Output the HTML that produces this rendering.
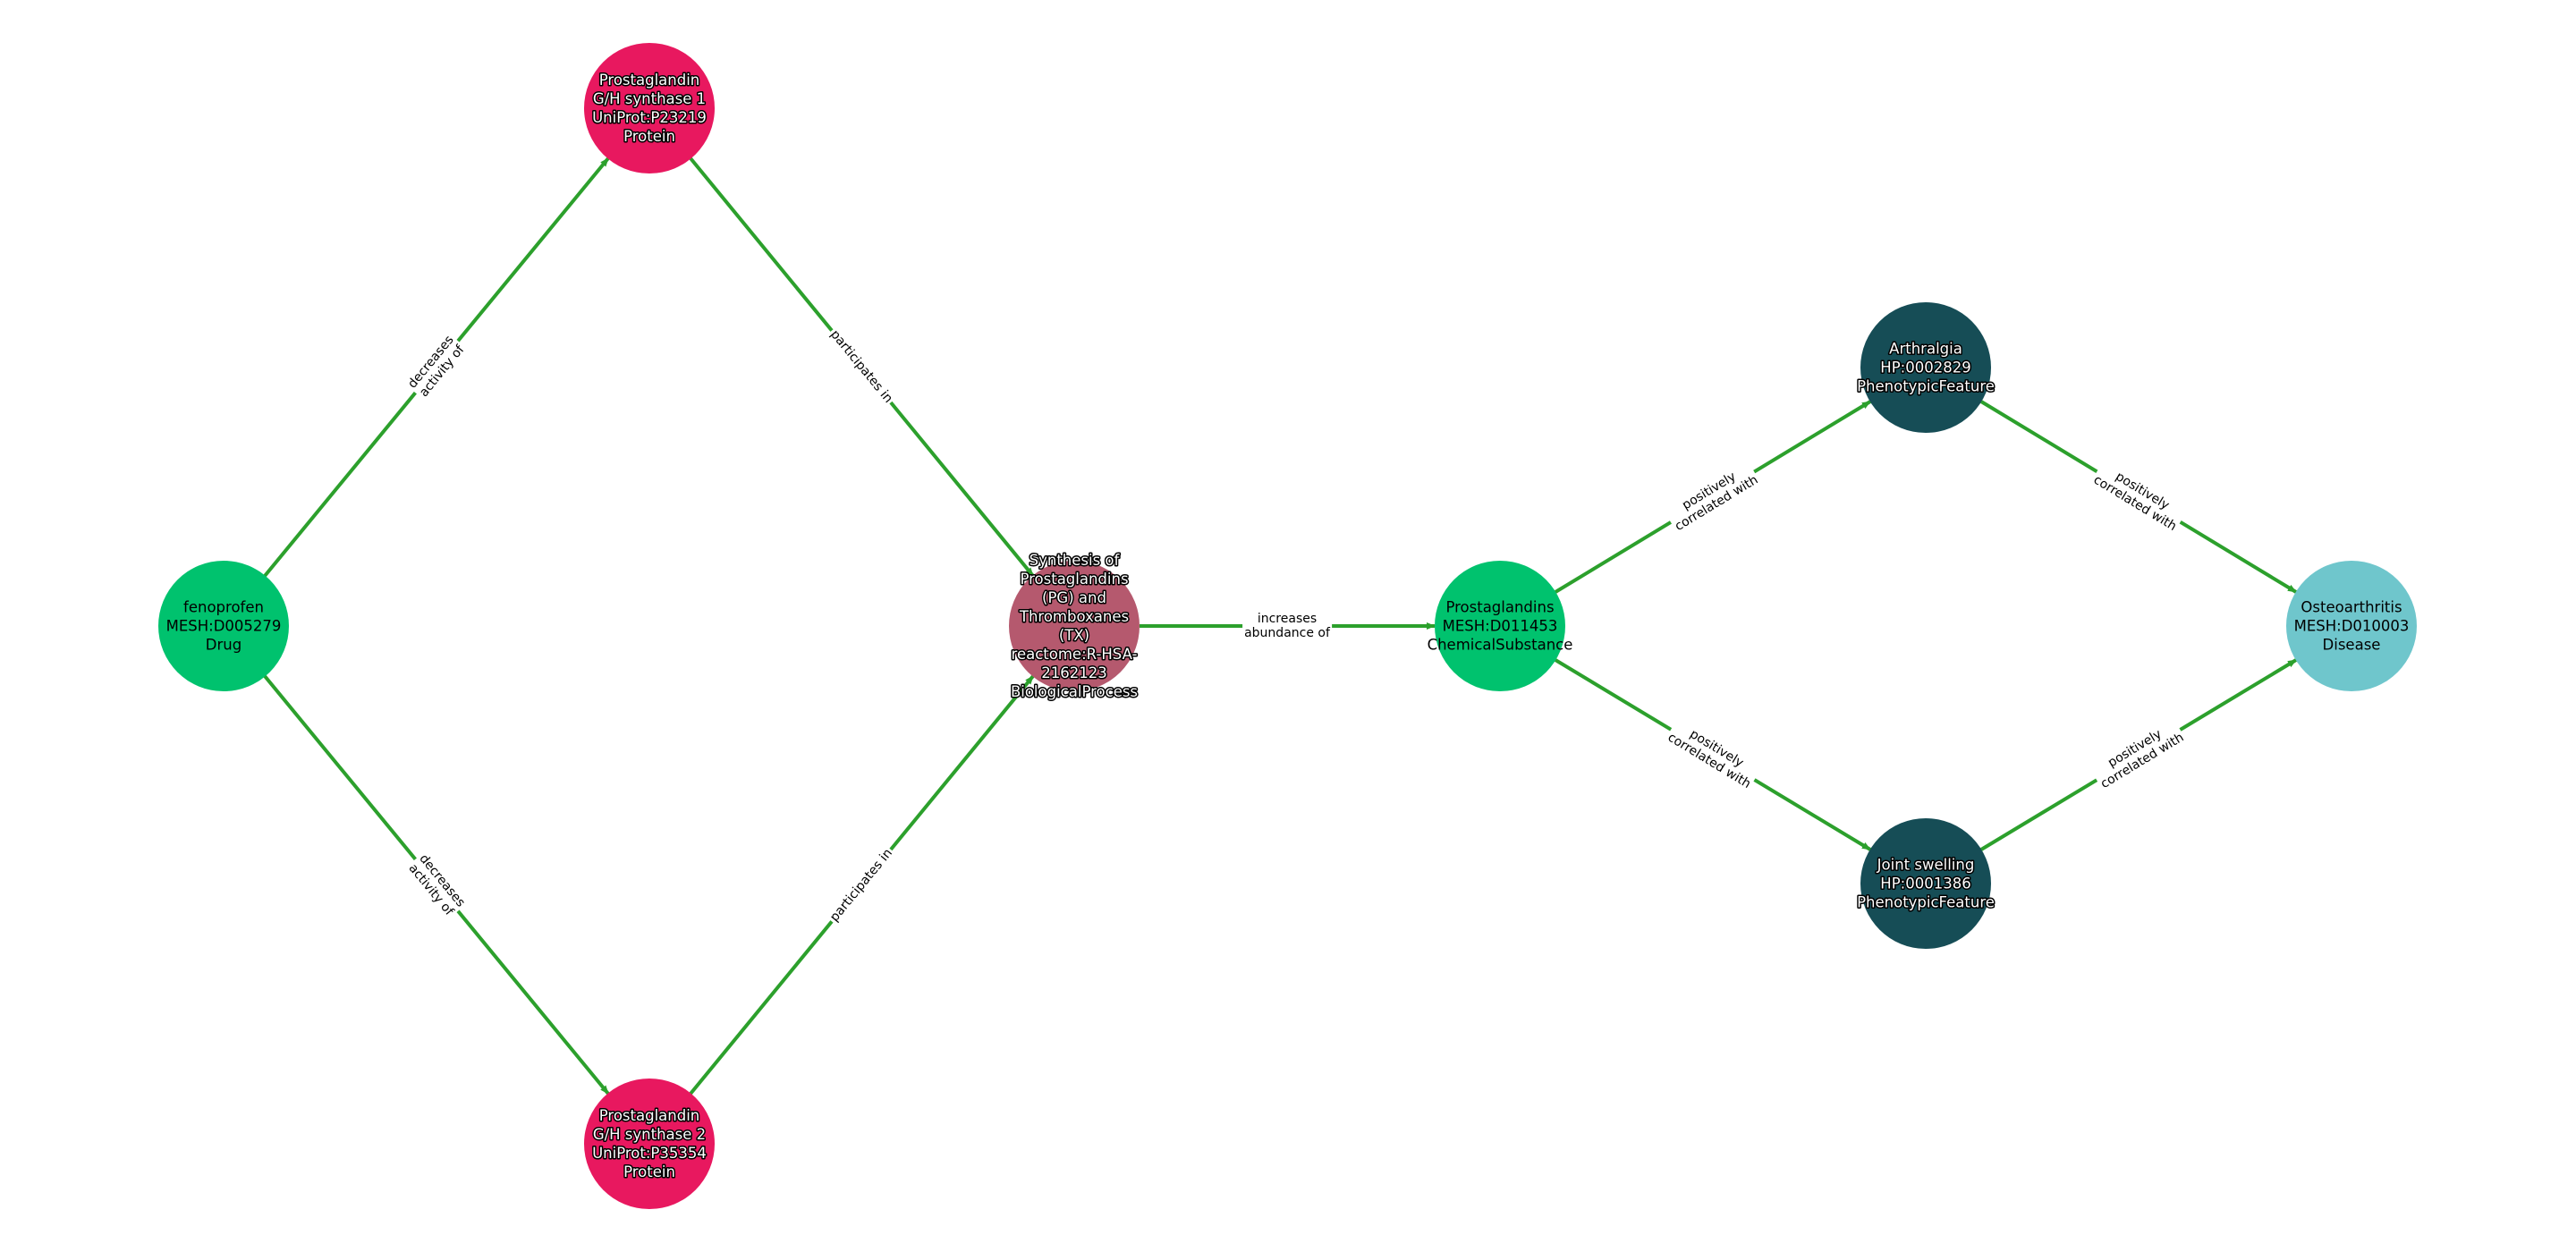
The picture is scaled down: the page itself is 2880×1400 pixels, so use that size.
<!DOCTYPE html>
<html><head><meta charset="utf-8"><style>
html,body{margin:0;padding:0;background:#fff;width:2880px;height:1400px;overflow:hidden}
.el{position:absolute;transform:translate(-50%,-50%) rotate(var(--r));background:#fff;font:14px/16px "DejaVu Sans","Liberation Sans",sans-serif;color:#000;text-align:center;white-space:nowrap;padding:1px 2px}
</style></head><body>
<svg width="2880" height="1400" style="position:absolute;left:0;top:0" font-family="DejaVu Sans, Liberation Sans, sans-serif">
<defs><marker id="a" markerWidth="10" markerHeight="8" refX="9" refY="4" orient="auto" markerUnits="userSpaceOnUse"><path d="M0,0 L10,4 L0,8 Z" fill="#2ca02c"/></marker></defs>
<g stroke="#2ca02c" stroke-width="4" marker-end="url(#a)">
<line x1="296" y1="644" x2="680" y2="177"/>
<line x1="296" y1="756" x2="680" y2="1223"/>
<line x1="772" y1="177" x2="1155" y2="644"/>
<line x1="772" y1="1223" x2="1155" y2="756"/>
<line x1="1274" y1="700" x2="1604" y2="700"/>
<line x1="1739" y1="662" x2="2091" y2="449"/>
<line x1="1739" y1="738" x2="2091" y2="950"/>
<line x1="2215" y1="449" x2="2567" y2="662"/>
<line x1="2215" y1="950" x2="2567" y2="738"/>
</g>
<circle cx="250" cy="700" r="73" fill="#00c26e"/>
<circle cx="726" cy="121" r="73" fill="#e8185f"/>
<circle cx="726" cy="1279" r="73" fill="#e8185f"/>
<circle cx="1201" cy="700" r="73" fill="#b5596e"/>
<circle cx="1677" cy="700" r="73" fill="#00c26e"/>
<circle cx="2153" cy="411" r="73" fill="#164d56"/>
<circle cx="2153" cy="988" r="73" fill="#164d56"/>
<circle cx="2629" cy="700" r="73" fill="#6fc6cc"/>
<g font-size="16.5" text-anchor="middle" dominant-baseline="central">
<text x="250" y="679">fenoprofen</text><text x="250" y="700">MESH:D005279</text><text x="250" y="721">Drug</text>
<text x="1677" y="679">Prostaglandins</text><text x="1677" y="700">MESH:D011453</text><text x="1677" y="721">ChemicalSubstance</text>
<text x="2629" y="679">Osteoarthritis</text><text x="2629" y="700">MESH:D010003</text><text x="2629" y="721">Disease</text>
<g fill="#fff" stroke="#000" stroke-width="3" paint-order="stroke" stroke-linejoin="round">
<text x="726" y="89.5">Prostaglandin</text><text x="726" y="110.5">G/H synthase 1</text><text x="726" y="131.5">UniProt:P23219</text><text x="726" y="152.5">Protein</text>
<text x="726" y="1247.5">Prostaglandin</text><text x="726" y="1268.5">G/H synthase 2</text><text x="726" y="1289.5">UniProt:P35354</text><text x="726" y="1310.5">Protein</text>
<text x="2153" y="390">Arthralgia</text><text x="2153" y="411">HP:0002829</text><text x="2153" y="432">PhenotypicFeature</text>
<text x="2153" y="967">Joint swelling</text><text x="2153" y="988">HP:0001386</text><text x="2153" y="1009">PhenotypicFeature</text>
<text x="1201" y="626.5">Synthesis of</text><text x="1201" y="647.5">Prostaglandins</text><text x="1201" y="668.5">(PG) and</text><text x="1201" y="689.5">Thromboxanes</text><text x="1201" y="710.5">(TX)</text><text x="1201" y="731.5">reactome:R-HSA-</text><text x="1201" y="752.5">2162123</text><text x="1201" y="773.5">BiologicalProcess</text>
</g></g>
</svg>
<div class="el" style="left:488px;top:410px;--r:-50.6deg">decreases<br>activity of</div>
<div class="el" style="left:488px;top:990px;--r:50.6deg">decreases<br>activity of</div>
<div class="el" style="left:963px;top:410px;--r:50.6deg">participates in</div>
<div class="el" style="left:963px;top:990px;--r:-50.6deg">participates in</div>
<div class="el" style="left:1439px;top:700px;--r:0deg">increases<br>abundance of</div>
<div class="el" style="left:1915px;top:556px;--r:-31.3deg">positively<br>correlated with</div>
<div class="el" style="left:1915px;top:844px;--r:31.3deg">positively<br>correlated with</div>
<div class="el" style="left:2391px;top:556px;--r:31.3deg">positively<br>correlated with</div>
<div class="el" style="left:2391px;top:844px;--r:-31.3deg">positively<br>correlated with</div>
</body></html>
